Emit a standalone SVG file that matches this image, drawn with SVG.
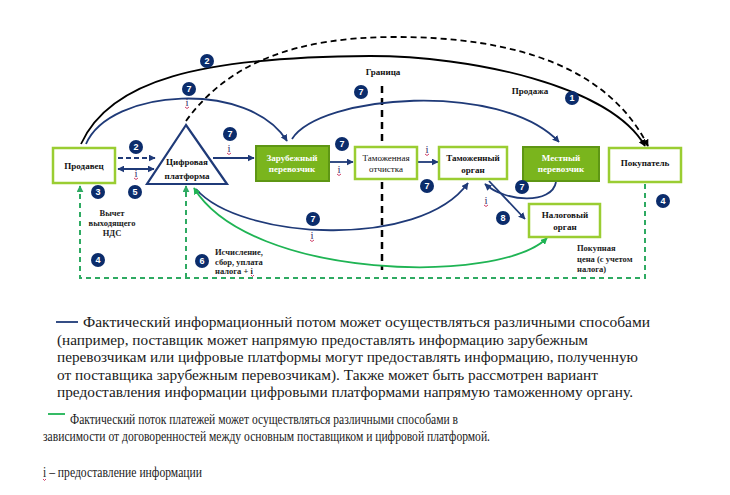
<svg xmlns="http://www.w3.org/2000/svg" width="730" height="495" viewBox="0 0 730 495">
<defs>
<style>
.box{fill:#fff;stroke:#9acd32;stroke-width:2.5}
.gbox{fill:#7ab51d;stroke:#5e9614;stroke-width:2}
.lbl{font-size:9px;font-weight:bold;fill:#111;text-anchor:middle}
.reg{font-weight:normal}
.wl{fill:#fff}
.nav{stroke:#1f3a78;stroke-width:1.8;fill:none}
.blk{stroke:#000;stroke-width:1.8;fill:none}
.gd{stroke:#2eaa62;stroke-width:2;stroke-dasharray:5 4;fill:none}
.gs{stroke:#1fb454;stroke-width:1.8;fill:none}
.n{fill:#0b2c6b}
.nt{font-family:'Liberation Sans',Arial,sans-serif;font-size:9px;font-weight:bold;fill:#fff;text-anchor:middle}
.ii{font-size:11px;fill:#3a2a6a;text-anchor:middle}
.sq{stroke:#d0406a;stroke-width:1;fill:none}
.note{font-weight:bold;font-size:8.5px;fill:#222}
.leg{font-size:14px;fill:#1a1a1a}
.leg2{font-size:14px;fill:#1a1a1a}
</style>
<marker id="an" viewBox="0 0 10 10" refX="9" refY="5" markerWidth="7" markerHeight="7" orient="auto-start-reverse" markerUnits="userSpaceOnUse"><path d="M0,0 L10,5 L0,10 z" fill="#1f3a78"/></marker>
<marker id="ab" viewBox="0 0 10 10" refX="9" refY="5" markerWidth="7" markerHeight="7" orient="auto" markerUnits="userSpaceOnUse"><path d="M0,0 L10,5 L0,10 z" fill="#000"/></marker>
<marker id="ag" viewBox="0 0 10 10" refX="9" refY="5" markerWidth="7" markerHeight="7" orient="auto-start-reverse" markerUnits="userSpaceOnUse"><path d="M0,0 L10,5 L0,10 z" fill="#1fb454"/></marker>
<marker id="agd" viewBox="0 0 10 10" refX="9" refY="5" markerWidth="7" markerHeight="7" orient="auto" markerUnits="userSpaceOnUse"><path d="M0,0 L10,5 L0,10 z" fill="#2eaa62"/></marker>
</defs>
<rect width="730" height="495" fill="#fff"/>

<g font-family="'Liberation Serif', 'DejaVu Serif', serif">
<g id="border">
<line x1="382" y1="86" x2="382" y2="270" stroke="#000" stroke-width="2.5" stroke-dasharray="7 5"/>
<text class="lbl" x="383" y="75" font-size="10">Граница</text>
</g>

<g id="connectors">
<path class="blk" d="M81,144 C110,80 200,57 370,56 C470,56 610,85 645,146" marker-end="url(#ab)"/>
<path class="blk" d="M186,121 C230,60 300,38 390,37 C520,36 610,70 648,146" stroke-dasharray="6 4" marker-end="url(#ab)"/>
<path class="nav" d="M86,144 C110,88 250,80 287,141" marker-end="url(#an)"/>
<path class="nav" d="M292,139 C320,95 500,80 559,142" marker-end="url(#an)"/>
<line class="nav" x1="118" y1="158" x2="155" y2="158" stroke-dasharray="5 3" marker-end="url(#an)"/>
<line class="nav" x1="118" y1="169" x2="154" y2="169" marker-start="url(#an)" marker-end="url(#an)"/>
<line class="nav" x1="213" y1="158" x2="254" y2="158" marker-end="url(#an)"/>
<line class="nav" x1="330" y1="162" x2="353" y2="162" marker-end="url(#an)"/>
<line class="nav" x1="418" y1="162" x2="438" y2="162" marker-end="url(#an)"/>
<path class="nav" d="M196,189 C240,240 420,250 468,183" marker-end="url(#an)"/>
<path class="nav" d="M556,182 C552,205 505,202 485,184" marker-end="url(#an)"/>
<line class="nav" x1="489" y1="181" x2="525" y2="219" marker-end="url(#an)"/>
<path class="gs" d="M194,188 C250,280 500,285 547,238" marker-start="url(#ag)" marker-end="url(#ag)"/>
<path class="gd" d="M645,184 L645,278 L80,278 L80,186" marker-end="url(#agd)"/>
<path class="gd" d="M186,278 L186,186" marker-end="url(#agd)"/>
</g>

<g id="seller"><rect class="box" x="53" y="148" width="62" height="35"/><text class="lbl" x="84" y="169" font-size="10">Продавец</text></g>
<g id="platform"><polygon points="186,125 147,184 227,184" fill="#fff" stroke="#1f3a78" stroke-width="2.2"/><text class="lbl" x="187" y="165" font-size="10">Цифровая</text><text class="lbl" x="187" y="179" font-size="10">платформа</text></g>
<g id="foreign-carrier"><rect class="gbox" x="256" y="146" width="73" height="35"/><text class="lbl wl" x="292" y="161" font-size="8.5">Зарубежный</text><text class="lbl wl" x="292" y="172" font-size="8.5">перевозчик</text></g>
<g id="customs-clearance"><rect class="box" x="355" y="147" width="62" height="32"/><text class="lbl reg" x="386" y="161">Таможенная</text><text class="lbl reg" x="386" y="172">отчистка</text></g>
<g id="customs"><rect class="box" x="439" y="147" width="68" height="32"/><text class="lbl" x="473" y="161">Таможенный</text><text class="lbl" x="473" y="173">орган</text></g>
<g id="local-carrier"><rect class="gbox" x="523" y="147" width="76" height="34"/><text class="lbl wl" x="561" y="161" font-size="8.5">Местный</text><text class="lbl wl" x="561" y="172" font-size="8.5">перевозчик</text></g>
<g id="buyer"><rect class="box" x="609" y="148" width="72" height="34"/><text class="lbl" x="645" y="166">Покупатель</text></g>
<g id="tax"><rect class="box" x="529" y="204" width="71" height="33"/><text class="lbl" x="565" y="218">Налоговый</text><text class="lbl" x="565" y="230">орган</text></g>

<g id="numbers">
<circle class="n" cx="207" cy="61" r="7"/><text class="nt" x="207" y="64">2</text>
<circle class="n" cx="189" cy="89" r="7"/><text class="nt" x="189" y="92">7</text>
<circle class="n" cx="230" cy="134" r="7"/><text class="nt" x="230" y="137">7</text>
<circle class="n" cx="136" cy="147" r="7"/><text class="nt" x="136" y="150">2</text>
<circle class="n" cx="98" cy="192" r="7"/><text class="nt" x="98" y="195">3</text>
<circle class="n" cx="135" cy="192" r="7"/><text class="nt" x="135" y="195">5</text>
<circle class="n" cx="361" cy="92" r="7"/><text class="nt" x="361" y="95">7</text>
<circle class="n" cx="342" cy="144" r="7"/><text class="nt" x="342" y="147">7</text>
<circle class="n" cx="572" cy="98" r="7"/><text class="nt" x="572" y="101">1</text>
<circle class="n" cx="427" cy="186" r="7"/><text class="nt" x="427" y="189">7</text>
<circle class="n" cx="522" cy="187" r="7"/><text class="nt" x="522" y="190">7</text>
<circle class="n" cx="503" cy="218" r="7"/><text class="nt" x="503" y="221">8</text>
<circle class="n" cx="313" cy="219" r="7"/><text class="nt" x="313" y="222">7</text>
<circle class="n" cx="98" cy="260" r="7"/><text class="nt" x="98" y="263">4</text>
<circle class="n" cx="202" cy="261" r="7"/><text class="nt" x="202" y="264">6</text>
<circle class="n" cx="663" cy="201" r="7"/><text class="nt" x="663" y="204">4</text>
</g>

<g id="info-marks">
<text class="ii" x="187" y="106">i</text><path class="sq" d="M185,107 q2,3 4,0"/>
<text class="ii" x="136" y="177">i</text><path class="sq" d="M134,178 q2,3 4,0"/>
<text class="ii" x="229" y="152">i</text><path class="sq" d="M227,153 q2,3 4,0"/>
<text class="ii" x="339" y="173">i</text><path class="sq" d="M337,174 q2,3 4,0"/>
<text class="ii" x="427" y="153">i</text><path class="sq" d="M425,154 q2,3 4,0"/>
<text class="ii" x="486" y="204">i</text><path class="sq" d="M484,205 q2,3 4,0"/>
<text class="ii" x="312" y="239">i</text><path class="sq" d="M310,240 q2,3 4,0"/>
</g>

<g id="notes">
<text class="lbl" x="530" y="94" font-size="9.5">Продажа</text>
<text class="note" x="112" y="216" text-anchor="middle">Вычет</text>
<text class="note" x="112" y="226" text-anchor="middle">выходящего</text>
<text class="note" x="112" y="236" text-anchor="middle">НДС</text>
<text class="note" x="215" y="255">Исчисление,</text>
<text class="note" x="215" y="265">сбор, уплата</text>
<text class="note" x="215" y="274">налога + i</text><path class="sq" d="M251,275 q1.5,3 3,0"/>
<text class="note" x="577" y="251">Покупная</text>
<text class="note" x="577" y="262">цена (с учетом</text>
<text class="note" x="577" y="272">налога)</text>
</g>

<g id="legend">
<line x1="56" y1="322" x2="78" y2="322" stroke="#1f3a78" stroke-width="1.8"/>
<text class="leg" x="83" y="327" textLength="567" lengthAdjust="spacingAndGlyphs">Фактический информационный потом может осуществляться различными способами</text>
<text class="leg" x="57" y="345" textLength="531" lengthAdjust="spacingAndGlyphs">(например, поставщик может напрямую предоставлять информацию зарубежным</text>
<text class="leg" x="57" y="362" textLength="581" lengthAdjust="spacingAndGlyphs">перевозчикам или цифровые платформы могут предоставлять информацию, полученную</text>
<text class="leg" x="57" y="380" textLength="541" lengthAdjust="spacingAndGlyphs">от поставщика зарубежным перевозчикам). Также может быть рассмотрен вариант</text>
<text class="leg" x="57" y="397" textLength="576" lengthAdjust="spacingAndGlyphs">предоставления информации цифровыми платформами напрямую таможенному органу.</text>
<line x1="48" y1="414" x2="65" y2="414" stroke="#1fb454" stroke-width="1.8"/>
<text class="leg2" x="70" y="424" textLength="388" lengthAdjust="spacingAndGlyphs">Фактический поток платежей может осуществляться различными способами в</text>
<text class="leg2" x="43" y="441" textLength="447" lengthAdjust="spacingAndGlyphs">зависимости от договоренностей между основным поставщиком и цифровой платформой.</text>
<text class="leg2" x="43" y="477" textLength="159" lengthAdjust="spacingAndGlyphs">i – предоставление информации</text>
<path class="sq" d="M43,479 q1.5,3 3,0"/>
</g>
</g>
</svg>
